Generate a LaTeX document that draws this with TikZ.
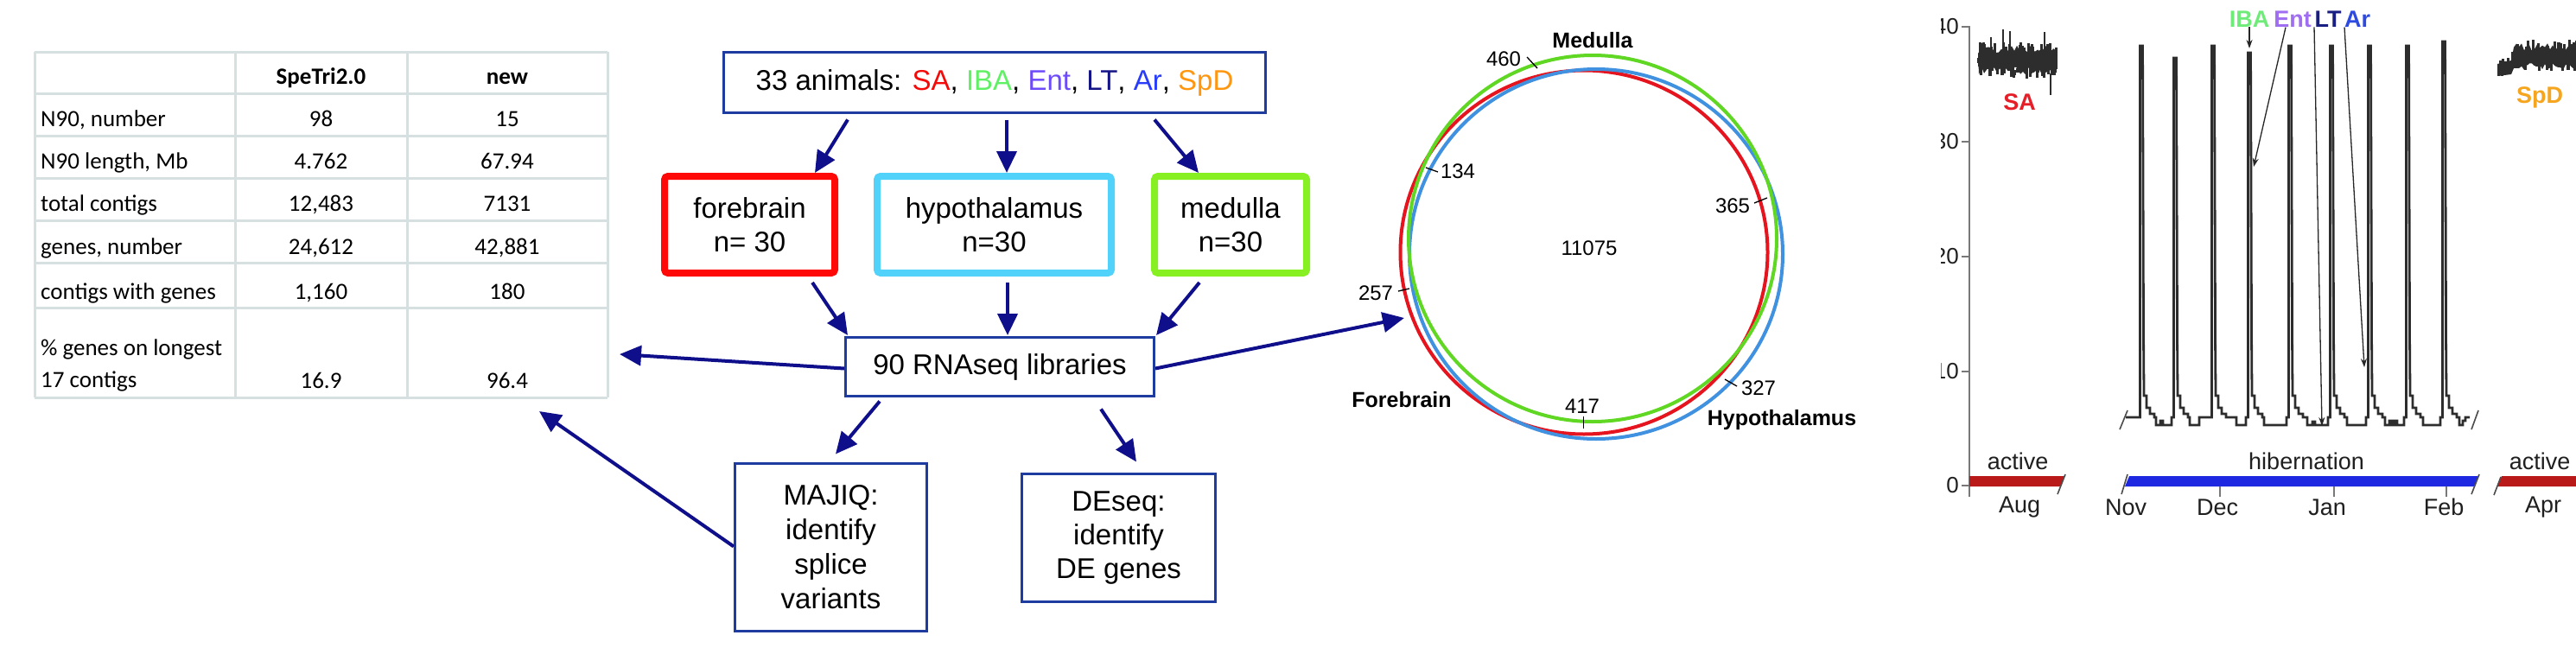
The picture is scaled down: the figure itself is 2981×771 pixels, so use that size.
\documentclass[tikz,border=0pt]{standalone}
\usepackage{fontspec}
\setmainfont{Liberation Sans}
\newfontfamily\tabfont{Carlito}
\usetikzlibrary{arrows.meta,calc}
\definecolor{boxblue}{RGB}{30,60,160}
\definecolor{arrnavy}{RGB}{15,15,140}
\definecolor{forered}{RGB}{255,8,8}
\definecolor{hypoblue}{RGB}{80,210,250}
\definecolor{medgreen}{RGB}{135,240,35}
\definecolor{tabline}{RGB}{214,224,224}
\definecolor{cSA}{RGB}{245,10,10}
\definecolor{cIBA}{RGB}{95,240,100}
\definecolor{cEnt}{RGB}{110,75,250}
\definecolor{cLT}{RGB}{20,20,135}
\definecolor{cAr}{RGB}{40,60,250}
\definecolor{cSpD}{RGB}{255,150,15}
\definecolor{vgreen}{RGB}{95,215,35}
\definecolor{vred}{RGB}{230,20,30}
\definecolor{vblue}{RGB}{65,145,225}
\definecolor{trace}{RGB}{45,45,45}
\definecolor{axisgray}{RGB}{120,120,120}
\definecolor{barred}{RGB}{185,25,25}
\definecolor{barblue}{RGB}{30,40,225}
\definecolor{kIBA}{RGB}{110,235,120}
\definecolor{kEnt}{RGB}{160,110,240}
\definecolor{kLT}{RGB}{25,30,130}
\definecolor{kAr}{RGB}{45,75,225}
\definecolor{kSA}{RGB}{230,30,40}
\definecolor{kSpD}{RGB}{245,165,30}
\newcommand\HibPeak[2]{-- ({#1-1.5},483) -- ({#1-1.5},#2) -- ({#1+1.5},#2) -- ({#1+2.5},390) -- ({#1+3},458) -- ({#1+6},458) -- ({#1+6},472) -- ({#1+10},472) -- ({#1+10},479) -- ({#1+15},479) -- ({#1+15},483)}
\tikzset{
  flowbox/.style={draw=boxblue, line width=3pt, fill=white, inner sep=0pt, outer sep=0pt, align=center, font=\fontsize{33}{39}\selectfont},
  regionbox/.style={line width=8pt, rounded corners=4pt, fill=white, inner sep=0pt, outer sep=0pt, align=center, minimum height=112pt, font=\fontsize{33}{39}\selectfont},
  flowarrow/.style={draw=arrnavy, line width=4pt, -{Triangle[length=25pt,width=23pt]}},
  tabrule/.style={draw=tabline, line width=3pt},
  tabl/.style={anchor=base west, inner sep=0pt, font=\tabfont\fontsize{27}{31}\selectfont},
  tabc/.style={anchor=base, inner sep=0pt, font=\tabfont\fontsize{27}{31}\selectfont},
  tabh/.style={anchor=base, inner sep=0pt, font=\tabfont\bfseries\fontsize{27}{31}\selectfont},
  vennnum/.style={inner sep=0pt, font=\fontsize{24}{28}\selectfont},
  vennlab/.style={inner sep=0pt, font=\bfseries\fontsize{25}{29}\selectfont},
  vtick/.style={draw=black, line width=1.3pt},
  chartlab/.style={inner sep=0pt, text=black!88, font=\fontsize{27}{31}\selectfont},
  ylab/.style={anchor=east, inner sep=0pt, text=black!88, font=\fontsize{26}{30}\selectfont},
  statlab/.style={inner sep=0pt, font=\bfseries\fontsize{27}{31}\selectfont},
  tracepath/.style={draw=trace, line width=2.8pt, line join=miter},
  thinarrow/.style={draw=black!85, line width=1.3pt, -{Stealth[length=10pt,width=7pt]}},
  axisline/.style={draw=axisgray, line width=2.4pt},
  breakmark/.style={draw=black!70, line width=1.6pt}
}
\begin{document}
\begin{tikzpicture}[x=1pt,y=-1pt]
\fill[white] (0,0) rectangle (2981,771);
\useasboundingbox (0,0) rectangle (2981,771);

% ---------------- table ----------------
\foreach \yy in {60,108,157,206,255,304,356,460} \draw[tabrule] (40,\yy) -- (703,\yy);
\foreach \xx in {40,272,471,703} \draw[tabrule] (\xx,60) -- (\xx,460);
\node[tabh] (h1) at (371.5,97) {SpeTri2.0};
\node[tabh] (h2) at (587,97) {new};
\node[tabl] (r1) at (47,146) {N90, number};
\node[tabc] (r1a) at (371.5,146) {98};
\node[tabc] (r1b) at (587,146) {15};
\node[tabl] (r2) at (47,195) {N90 length, Mb};
\node[tabc] (r2a) at (371.5,195) {4.762};
\node[tabc] (r2b) at (587,195) {67.94};
\node[tabl] (r3) at (47,244) {total contigs};
\node[tabc] (r3a) at (371.5,244) {12,483};
\node[tabc] (r3b) at (587,244) {7131};
\node[tabl] (r4) at (47,294) {genes, number};
\node[tabc] (r4a) at (371.5,294) {24,612};
\node[tabc] (r4b) at (587,294) {42,881};
\node[tabl] (r5) at (47,346) {contigs with genes};
\node[tabc] (r5a) at (371.5,346) {1,160};
\node[tabc] (r5b) at (587,346) {180};
\node[tabl] (r6) at (47,411) {\% genes on longest};
\node[tabl] (r6l) at (47,448) {17 contigs};
\node[tabc] (r6a) at (371.5,449) {16.9};
\node[tabc] (r6b) at (587,449) {96.4};
\coordinate (tblA) at (717,410);
\coordinate (tblB) at (624,476);

% ---------------- flowchart ----------------
\node[flowbox, minimum width=627pt, minimum height=70pt] (top) at (1151,95.5)
  {33 animals: \textcolor{cSA}{SA}, \textcolor{cIBA}{IBA}, \textcolor{cEnt}{Ent}, \textcolor{cLT}{LT}, \textcolor{cAr}{Ar}, \textcolor{cSpD}{SpD}};
\node[regionbox, draw=forered, minimum width=197pt] (fore) at (867.5,260) {forebrain\\n= 30};
\node[regionbox, draw=hypoblue, minimum width=271pt] (hypo) at (1150.5,260) {hypothalamus\\n=30};
\node[regionbox, draw=medgreen, minimum width=176pt] (med) at (1424,260) {medulla\\n=30};
\node[flowbox, minimum width=357pt, minimum height=68pt] (rna) at (1157,424.5) {90 RNAseq libraries};
\node[flowbox, minimum width=222pt, minimum height=194pt, font=\fontsize{33}{40}\selectfont] (majiq) at (961.5,633.5) {MAJIQ:\\identify\\splice\\variants};
\node[flowbox, minimum width=224pt, minimum height=148pt] (deseq) at (1294.5,622.5) {DEseq:\\identify\\DE genes};

\draw[flowarrow] ($(top.south)+(-170,8)$) -- ($(fore.north)+(75.5,-4)$);
\draw[flowarrow] ($(top.south)+(14,8)$) -- ($(hypo.north)+(14.5,-4)$);
\draw[flowarrow] ($(top.south)+(185,8)$) -- ($(med.north)+(-37,-4)$);
\draw[flowarrow] ($(fore.south)+(72.5,11)$) -- ($(rna.north)+(-176,-2.5)$);
\draw[flowarrow] ($(hypo.south)+(15.5,11)$) -- ($(rna.north)+(9,-2.5)$);
\draw[flowarrow] ($(med.south)+(-36,11)$) -- ($(rna.north)+(181,-2.5)$);
\draw[flowarrow] ($(rna.west)+(-1.5,2)$) -- (tblA);
\coordinate (vennA) at (1625,368);
\draw[flowarrow] ($(rna.east)+(1.5,2)$) -- (vennA);
\draw[flowarrow] ($(rna.south)+(-139,6)$) -- ($(majiq.north)+(5.5,-11)$);
\draw[flowarrow] ($(rna.south)+(117,15)$) -- ($(deseq.north)+(20.5,-14)$);
\draw[flowarrow] ($(majiq.west)+(-1.5,-1)$) -- (tblB);

% ---------------- Venn ----------------
\draw[vred, line width=4pt] (1833,292) ellipse [x radius=212.5pt, y radius=210.5pt];
\draw[vblue, line width=4pt] (1847,294) ellipse [x radius=216pt, y radius=214pt];
\draw[vgreen, line width=4pt] (1843,276) ellipse [x radius=213pt, y radius=212pt];
\node[vennlab] (lmed) at (1843,47) {Medulla};
\node[vennlab] (lfore) at (1622,463) {Forebrain};
\node[vennlab] (lhypo) at (2062,486) {Hypothalamus};
\node[vennnum] (n11075) at (1839,287) {11075};
\node[vennnum] (n460) at (1740,68) {460};
\node[vennnum] (n134) at (1687,198) {134};
\node[vennnum] (n365) at (2005,238) {365};
\node[vennnum] (n257) at (1592,339) {257};
\node[vennnum] (n417) at (1831,470) {417};
\node[vennnum] (n327) at (2035,449) {327};
\draw[vtick] (1767,66) -- (1779,79);
\draw[vtick] (1650,194) -- (1664,199);
\draw[vtick] (2030,235) -- (2045,229);
\draw[vtick] (1618,337) -- (1631,334);
\draw[vtick] (1832.5,482) -- (1832.5,496);
\draw[vtick] (1996,439) -- (2010,447);

% ---------------- chart ----------------
\begin{scope}
\clip (2246,0) rectangle (2981,771);
\draw[axisline] (2279,30) -- (2279,575);
\foreach \yy/\lab in {31/40,164/30,297/20,430/10,562/0} {
  \draw[axisline] (2270,\yy) -- (2279,\yy);
  \node[ylab] at (2267,\yy) {\lab};
}
% SA trace
\pgfmathsetseed{11}
\fill[trace] (2289,62) \foreach \x in {2292,2295,...,2380} { -- (\x,{57+5*rand}) }
  -- (2380,84) \foreach \x in {2377,2374,...,2289} { -- (\x,{82+5*rand}) } -- cycle;
\draw[tracepath] (2288,72) \foreach \x in {2289,2290,...,2380} { -| (\x,{70+20*rand}) };
\draw[tracepath] (2304,43) -- (2304,60);
\draw[tracepath] (2318,34) -- (2318,60);
\draw[tracepath] (2326,36) -- (2326,60);
\draw[tracepath] (2366,37) -- (2366,60);
\draw[tracepath] (2373,85) -- (2373,110);
\node[statlab, text=kSA] (lSA) at (2337,118) {SA};
% SpD trace
\pgfmathsetseed{5}
\fill[trace] (2890,74) -- (2906,70) \foreach \x in {2909,2912,...,2990} { -- (\x,{55+5*rand}) }
  -- (2990,78) \foreach \x in {2987,2984,...,2909} { -- (\x,{77+4*rand}) } -- (2906,86) -- (2890,88) -- cycle;
\draw[tracepath] (2890,84) \foreach \x in {2891,2892,...,2905} { -| (\x,{78+10*rand}) };
\draw[tracepath] (2905,76) \foreach \x in {2906,2907,...,2990} { -| (\x,{64+17*rand}) };
\node[statlab, text=kSpD] (lSpD) at (2939,113) {SpD};
% hibernation trace
\draw[tracepath] (2460,483)
  \HibPeak{2478}{53} -- (2495,483) -- (2495,492) -- (2500,492) -- (2500,487) -- (2503,487) -- (2503,492) -- (2513,492) -- (2513,483)
  \HibPeak{2517}{67} -- (2534,483) -- (2534,492) -- (2545,492) -- (2545,483)
  \HibPeak{2561}{53} -- (2588,483) -- (2588,492) -- (2599,492) -- (2599,483)
  \HibPeak{2603}{61} -- (2620,483) -- (2620,492) -- (2646,492) -- (2646,483)
  \HibPeak{2650}{53} -- (2670,483) -- (2670,492) -- (2676,492) -- (2676,488) -- (2679,488) -- (2679,492) -- (2694,492) -- (2694,483)
  \HibPeak{2698}{53} -- (2716,483) -- (2716,492) -- (2738,492) -- (2738,483)
  \HibPeak{2742}{53} -- (2760,483) -- (2760,492) -- (2765,492) -- (2765,487) -- (2768,487) -- (2768,492) -- (2771,492) -- (2771,487) -- (2774,487) -- (2774,492) -- (2782,492) -- (2782,483)
  \HibPeak{2786}{53} -- (2804,483) -- (2804,492) -- (2824,492) -- (2824,483)
  \HibPeak{2828}{48} -- (2846,483) -- (2846,492) -- (2850,492) -- (2850,487) -- (2853,487) -- (2853,483) -- (2858,483);
\draw[breakmark] (2453,497) -- (2462,475);
\draw[breakmark] (2860,497) -- (2868,475);
% labels and arrows
\node[statlab, text=kIBA] (lIBA) at (2603,22) {IBA};
\node[statlab, text=kEnt] (lEnt) at (2653,22) {Ent};
\node[statlab, text=kLT] (lLT) at (2694,22) {LT};
\node[statlab, text=kAr] (lAr) at (2728,22) {Ar};
\coordinate (pIBA) at (2603,56);
\coordinate (pEnt) at (2608,193);
\coordinate (pLT) at (2687,493);
\coordinate (pAr) at (2736,425);
\draw[thinarrow] (lIBA.south) -- (pIBA);
\draw[thinarrow] ($(lEnt.south)+(-8,0)$) -- (pEnt);
\draw[thinarrow] ($(lLT.south)+(-16,0)$) -- (pLT);
\draw[thinarrow] ($(lAr.south)+(-15,0)$) -- (pAr);
% bars
\fill[barred] (2279,551) -- (2389,551) -- (2384,563) -- (2279,563) -- cycle;
\fill[barblue] (2464,551) -- (2868,551) -- (2863,563) -- (2459,563) -- cycle;
\fill[barred] (2895,551) -- (2990,551) -- (2990,563) -- (2890,563) -- cycle;
\draw[breakmark] (2381,572) -- (2390,549);
\draw[breakmark] (2455,572) -- (2462,549);
\draw[breakmark] (2860,572) -- (2869,549);
\draw[breakmark] (2886,573) -- (2894,552);
\foreach \xx in {2569,2701,2831} \draw[axisline] (\xx,563) -- (\xx,575);
\node[chartlab] (a1) at (2335,534) {active};
\node[chartlab] (hb) at (2669,534) {hibernation};
\node[chartlab] (a2) at (2939,534) {active};
\node[chartlab] (mAug) at (2337,587) {Aug};
\node[chartlab] (mNov) at (2460,587) {Nov};
\node[chartlab] (mDec) at (2566,587) {Dec};
\node[chartlab] (mJan) at (2693,587) {Jan};
\node[chartlab] (mFeb) at (2828,587) {Feb};
\node[chartlab] (mApr) at (2943,587) {Apr};
\end{scope}
\end{tikzpicture}
\end{document}
